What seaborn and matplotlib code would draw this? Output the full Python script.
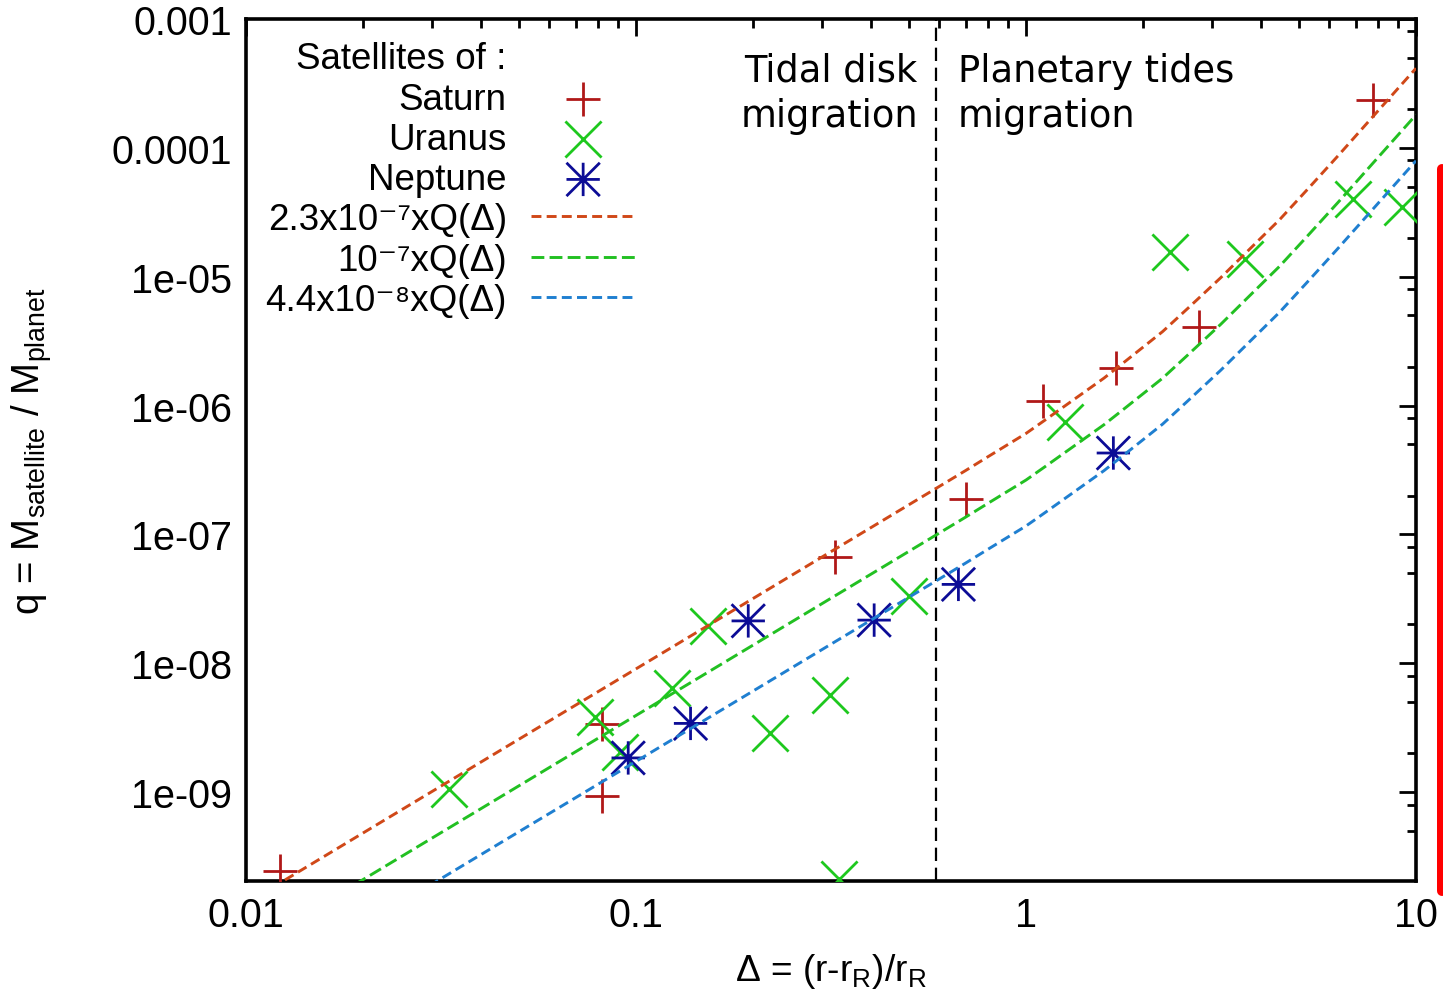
import numpy as np
import pandas as pd
import matplotlib
matplotlib.use("Agg")
import matplotlib.pyplot as plt
import seaborn as sns
from matplotlib.path import Path
from matplotlib.lines import Line2D
from matplotlib.ticker import FixedLocator, FixedFormatter, LogLocator, NullFormatter

# ---------------- data ----------------
saturn_delta = [0.0122, 0.0817, 0.0817, 0.324, 0.702, 1.107, 1.70, 2.77, 7.74]
saturn_q = [2.44e-10, 3.37e-9, 9.35e-10, 6.7e-8, 1.88e-7, 1.09e-6, 1.94e-6, 4.05e-6, 2.35e-4]

uranus_delta = [0.0332, 0.0785, 0.091, 0.1235, 0.153, 0.221, 0.314, 0.332, 0.502,
                1.259, 2.34, 3.64, 6.91, 9.19]
uranus_q = [1.05e-9, 3.8e-9, 2.04e-9, 6.38e-9, 1.95e-8, 2.87e-9, 5.66e-9, 2.11e-10, 3.34e-8,
            7.48e-7, 1.56e-5, 1.37e-5, 4.0e-5, 3.45e-5]

neptune_delta = [0.0955, 0.138, 0.194, 0.408, 0.671, 1.675]
neptune_q = [1.84e-9, 3.41e-9, 2.13e-8, 2.16e-8, 4.09e-8, 4.28e-7]

# Q(Delta)
q_delta = [0.01, 0.02, 0.05, 0.1, 0.2, 0.4, 0.6, 0.7, 0.8, 1.0, 1.12, 1.26, 1.585, 1.8,
           2.0, 2.24, 2.6, 3.16, 3.8, 4.47, 5.3, 6.31, 7.94, 10.0]
q_value = [5.94e-4, 2.10e-3, 0.01114, 0.0393, 0.1387, 0.490, 1.026, 1.36, 1.746, 2.64, 3.36, 4.33,
           7.10, 9.62, 12.4, 16.3, 24.7, 42.8, 74.3, 120.5, 211, 377, 824, 1803]

curve_coeffs = [2.3e-7, 1e-7, 4.4e-8]
curve_labels = ["2.3x10⁻⁷xQ(Δ)", "10⁻⁷xQ(Δ)", "4.4x10⁻⁸xQ(Δ)"]

series_labels = ["Saturn", "Uranus", "Neptune"]
legend_title = "Satellites of :"

x_ticks = [0.01, 0.1, 1, 10]
x_tick_labels = ["0.01", "0.1", "1", "10"]
y_ticks = [1e-9, 1e-8, 1e-7, 1e-6, 1e-5, 1e-4, 1e-3]
y_tick_labels = ["1e-09", "1e-08", "1e-07", "1e-06", "1e-05", "0.0001", "0.001"]

separator_delta = 0.587
left_text = "Tidal disk\nmigration"
right_text = "Planetary tides\nmigration"

# ---------------- style ----------------
sns.set_theme(style="white")
plt.rcParams["font.family"] = ["Liberation Sans", "DejaVu Sans"]
plt.rcParams["text.color"] = "black"
plt.rcParams["axes.labelcolor"] = "black"
plt.rcParams["mathtext.fontset"] = "custom"
plt.rcParams["mathtext.rm"] = "Liberation Sans"
plt.rcParams["mathtext.it"] = "Liberation Sans:italic"
plt.rcParams["mathtext.default"] = "regular"

c_saturn = "#b01818"
c_uranus = "#1ec81e"
c_neptune = "#0c0c96"
c_red = "#d04818"
c_green = "#22c022"
c_blue = "#1f7fd0"

W, H = 1443, 995
fig = plt.figure(figsize=(W / 100, H / 100), dpi=100)
ax = fig.add_axes([246 / W, 1 - 882 / H, (1416 - 246) / W, (882 - 20) / H])
ax.set_facecolor("white")

asterisk = Path([(-1, 0), (1, 0), (0, -1), (0, 1), (-1, -1), (1, 1), (-1, 1), (1, -1)],
                [Path.MOVETO, Path.LINETO] * 4)

sns.scatterplot(x=saturn_delta, y=saturn_q, ax=ax, marker="+", s=24 ** 2,
                color=c_saturn, linewidth=2.0, label=series_labels[0], zorder=3)
sns.scatterplot(x=uranus_delta, y=uranus_q, ax=ax, marker="x", s=26 ** 2,
                color=c_uranus, linewidth=2.0, label=series_labels[1], zorder=3)
sns.scatterplot(x=neptune_delta, y=neptune_q, ax=ax, marker=asterisk, s=24 ** 2,
                facecolor="none", edgecolor=c_neptune, linewidth=2.0,
                label=series_labels[2], zorder=3)

curve_df = pd.DataFrame({"delta": q_delta, "Q": q_value})
styles = [(0, (3.4, 1.8)), (0, (4.4, 1.8)), (0, (3.4, 1.8))]
for coef, lab, col, ls in zip(curve_coeffs, curve_labels, [c_red, c_green, c_blue], styles):
    sns.lineplot(x=curve_df["delta"], y=curve_df["Q"] * coef, ax=ax, color=col,
                 linewidth=2.1, linestyle=ls, label=lab, sort=False, zorder=4)

ax.axvline(separator_delta, color="black", linewidth=1.6, linestyle=(0, (6, 3)), zorder=2)

ax.set_xscale("log")
ax.set_yscale("log")
ax.set_xlim(0.01, 10)
ax.set_ylim(2.04e-10, 1e-3)

ax.xaxis.set_major_locator(FixedLocator(x_ticks))
ax.xaxis.set_major_formatter(FixedFormatter(x_tick_labels))
ax.xaxis.set_minor_locator(LogLocator(base=10, subs=np.arange(2, 10)))
ax.xaxis.set_minor_formatter(NullFormatter())
ax.yaxis.set_major_locator(FixedLocator(y_ticks))
ax.yaxis.set_major_formatter(FixedFormatter(y_tick_labels))
ax.yaxis.set_minor_locator(LogLocator(base=10, subs=(2, 5, 8)))
ax.yaxis.set_minor_formatter(NullFormatter())

ax.tick_params(which="both", direction="in", top=True, right=True, width=2.0,
               colors="black", labelsize=28.5)
ax.tick_params(which="major", length=12)
ax.tick_params(which="minor", length=6.5)
ax.tick_params(axis="y", which="major", pad=10)
ax.tick_params(axis="x", which="major", pad=11)
for sp in ax.spines.values():
    sp.set_linewidth(2.6)
    sp.set_color("black")

ax.set_xlabel(r"$\Delta$ = (r-r$_R$)/r$_R$", fontsize=26.7, color="black")
ax.set_ylabel(r"q = M$_{satellite}$ / M$_{planet}$", fontsize=27.5, color="black")
ax.xaxis.set_label_coords(0.5, -0.081)
ax.yaxis.set_label_coords(-0.164, 0.5)

# region annotations
ax.annotate(left_text, xy=(separator_delta, 1), xycoords=("data", "axes fraction"),
            xytext=(-18, -33), textcoords="offset pixels", ha="right", va="top",
            fontsize=26.5, family="DejaVu Sans", linespacing=1.28, color="black")
ax.annotate(right_text, xy=(separator_delta, 1), xycoords=("data", "axes fraction"),
            xytext=(22, -33), textcoords="offset pixels", ha="left", va="top",
            fontsize=26.5, family="DejaVu Sans", linespacing=1.28, color="black")

# legend (gnuplot style: text left, sample right)
handles, labels = ax.get_legend_handles_labels()
header = Line2D([], [], linestyle="none")
leg = ax.legend([header] + handles, [legend_title] + labels, loc="upper right",
                bbox_to_anchor=((654 - 246) / 1170, 1 - 4 / 862), markerfirst=False,
                frameon=False, fontsize=26.5, handlelength=2.85, handletextpad=0.65,
                labelspacing=0.142, borderpad=0, scatterpoints=1, labelcolor="black")

# red bar at the right edge of the picture
fig.add_artist(Line2D([1442 / W, 1442 / W], [1 - 170 / H, 1 - 892 / H], transform=fig.transFigure,
                      color="#ff0000", linewidth=7.2, solid_capstyle="round"))

fig.savefig("out.png", dpi=100, facecolor="white")
